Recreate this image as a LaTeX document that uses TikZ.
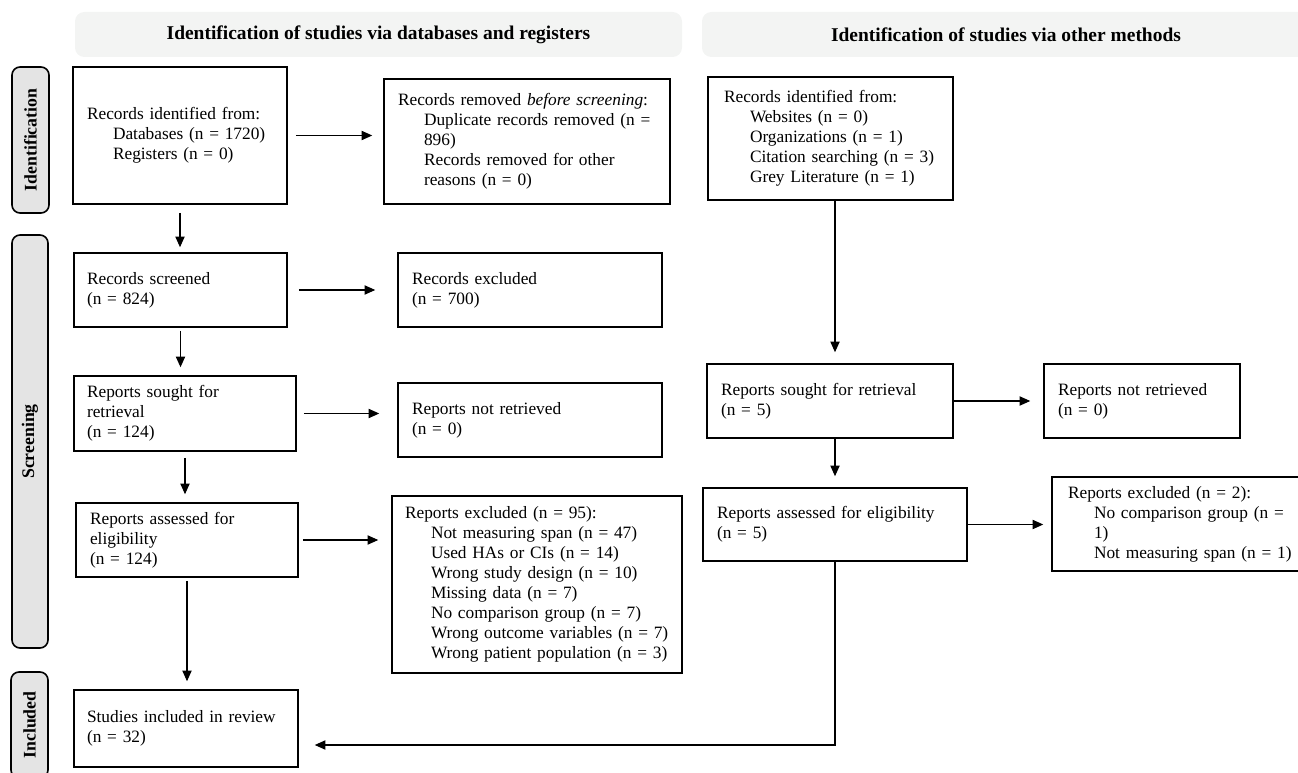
\documentclass[tikz,border=0pt]{standalone}
\usepackage{fontspec}
\setmainfont{Liberation Serif}
\usetikzlibrary{arrows.meta}
\definecolor{hdrfill}{RGB}{243,244,243}
\definecolor{lblfill}{RGB}{228,228,228}
\newcommand{\ind}{\hspace*{19.5pt}}
\begin{document}
\begin{tikzpicture}[x=0.75pt,y=-0.75pt,
  box/.style={draw=black, line width=1.2pt, fill=white, align=left, inner ysep=0pt,
              font=\fontsize{13}{15}\selectfont},
  phase/.style={draw=black, line width=1.2pt, fill=lblfill, rounded corners=6pt, rotate=90,
                inner sep=0pt, font=\fontsize{13.3}{15}\selectfont\bfseries},
  hdr/.style={fill=hdrfill, rounded corners=7pt, inner sep=0pt, minimum height=33.75pt,
              font=\fontsize{14.6}{16}\selectfont\bfseries},
  arr/.style={-{Triangle[length=8pt,width=7pt]}, line width=0.8pt}
]
\useasboundingbox (0,0) rectangle (1298,773);

% headers
\node[hdr, minimum width=455.25pt] (h1) at (378.5,34.5) {Identification of studies via databases and registers};
\node[hdr, minimum width=456pt] (h2) at (1006,34.5) {Identification of studies via other methods};

% phase labels
\node[phase, minimum width=109.5pt, minimum height=27.75pt] (idl) at (30.5,140) {Identification};
\node[phase, minimum width=309.75pt, minimum height=27pt] (scl) at (30,441.5) {Screening};
\node[phase, minimum width=79.5pt, minimum height=27.75pt] (inl) at (29.5,725) {Included};

% left column
\node[box, text width=139.5pt, inner xsep=10.5pt, minimum height=102.75pt] (A1) at (180,135.5)
  {Records identified from:\\ \ind Databases (n = 1720)\\ \ind Registers (n = 0)};
\node[box, text width=193.5pt, inner xsep=10.5pt, minimum height=93.75pt] (A2) at (527,141.5)
  {Records removed \textit{before screening}:\\ \ind Duplicate records removed (n =\\ \ind 896)\\ \ind Records removed for other\\ \ind reasons (n = 0)};
\node[box, text width=140.25pt, inner xsep=9.75pt, minimum height=55.5pt] (A3) at (180.5,290)
  {Records screened\\ (n = 824)};
\node[box, text width=177pt, inner xsep=10.5pt, minimum height=55.5pt] (A3x) at (530,290)
  {Records excluded\\ (n = 700)};
\node[box, text width=147pt, inner xsep=9.75pt, minimum height=56.25pt] (A4) at (185,413.5)
  {Reports sought for\\ retrieval\\ (n = 124)};
\node[box, text width=177pt, inner xsep=10.5pt, minimum height=55.5pt] (A4x) at (530,420)
  {Reports not retrieved\\ (n = 0)};
\node[box, text width=145.5pt, inner xsep=10.5pt, minimum height=55.5pt] (A5) at (187,540)
  {Reports assessed for\\ eligibility\\ (n = 124)};
\node[box, text width=198pt, inner xsep=9.75pt, minimum height=132.75pt] (A5x) at (537,584.5)
  {Reports excluded (n = 95):\\ \ind Not measuring span (n = 47)\\ \ind Used HAs or CIs (n = 14)\\ \ind Wrong study design (n = 10)\\ \ind Missing data (n = 7)\\ \ind No comparison group (n = 7)\\ \ind Wrong outcome variables (n = 7)\\ \ind Wrong patient population (n = 3)};
\node[box, text width=148.5pt, inner xsep=9.75pt, minimum height=57.75pt] (A6) at (186,728.5)
  {Studies included in review\\ (n = 32)};

% right column
\node[box, text width=159.75pt, inner xsep=12pt, minimum height=92.25pt] (B1) at (830.5,138.5)
  {Records identified from:\\ \ind Websites (n = 0)\\ \ind Organizations (n = 1)\\ \ind Citation searching (n = 3)\\ \ind Grey Literature (n = 1)};
\node[box, text width=163.5pt, inner xsep=10.5pt, minimum height=55.5pt] (B2) at (830,401)
  {Reports sought for retrieval\\ (n = 5)};
\node[box, text width=126pt, inner xsep=10.5pt, minimum height=55.5pt] (B2x) at (1142,401)
  {Reports not retrieved\\ (n = 0)};
\node[box, text width=177pt, inner xsep=10.5pt, minimum height=54.75pt] (B3) at (835,524.5)
  {Reports assessed for eligibility\\ (n = 5)};
\node[box, text width=169.5pt, inner xsep=12pt, minimum height=70.5pt] (B4) at (1181,524)
  {Reports excluded (n = 2):\\ \ind No comparison group (n =\\ \ind 1)\\ \ind Not measuring span (n = 1)};

\coordinate (jn) at (0,745);

% connectors left
\draw[arr, shorten <=6pt, shorten >=8.25pt] (A1.east) -- (A1.east -| A2.west);
\draw[arr, shorten <=6pt, shorten >=3.75pt] (A1.south) -- (A1.south |- A3.north);
\draw[arr, shorten <=8.25pt, shorten >=16.5pt] (A3.east) -- (A3.east -| A3x.west);
\draw[arr, shorten <=2.25pt, shorten >=6pt] (A3.south) -- (A3.south |- A4.north);
\draw[arr, shorten <=5.25pt, shorten >=13.5pt] (A4.east) -- (A4.east -| A4x.west);
\draw[arr, shorten <=4.5pt, shorten >=6pt] (A4.south) -- (A4.south |- A5.north);
\draw[arr, shorten <=3pt, shorten >=9.75pt] (A5.east) -- (A5.east -| A5x.west);
\draw[arr, shorten <=2.25pt, shorten >=6pt] (A5.south) -- (A5.south |- A6.north);

% connectors right
\draw[arr, shorten >=8.25pt] (B3.north |- B1.south) -- (B3.north |- B2.north);
\draw[arr, shorten >=9.75pt] (B2.east) -- (B2.east -| B2x.west);
\draw[arr, shorten >=8.25pt] (B3.north |- B2.south) -- (B3.north);
\draw[arr, shorten >=6pt] (B3.east) -- (B3.east -| B4.west);
\draw[arr, shorten >=12pt] (B3.south) -- (B3.south |- jn) -- (A6.east |- jn);
\end{tikzpicture}
\end{document}
